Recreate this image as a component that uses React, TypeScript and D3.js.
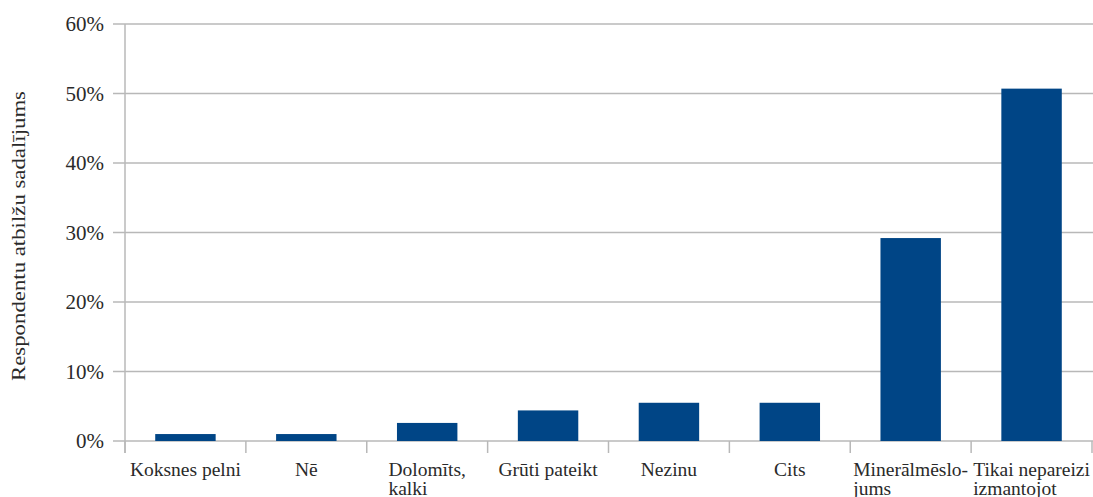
import React, { useEffect, useRef } from "react";
import * as d3 from "d3";

const categories: string[][] = [
  ["Koksnes pelni"],
  ["Nē"],
  ["Dolomīts,", "kalki"],
  ["Grūti pateikt"],
  ["Nezinu"],
  ["Cits"],
  ["Minerālmēslo-", "jums"],
  ["Tikai nepareizi", "izmantojot"],
];
const values: number[] = [0.01, 0.01, 0.026, 0.044, 0.055, 0.055, 0.292, 0.507];
const yTicks: number[] = [0, 0.1, 0.2, 0.3, 0.4, 0.5, 0.6];
const yTitle = "Respondentu atbilžu sadalījums";

const W = 1093;
const H = 497;
const M = { left: 125, right: 1092, top: 24, bottom: 441 };
const FONT = "'Liberation Serif', 'Times New Roman', serif";
const GRID = "#b8b8b8";
const BAR = "#004586";
const TEXT = "#2a2a2a";

export default function App() {
  const ref = useRef<SVGSVGElement | null>(null);

  useEffect(() => {
    const svg = d3.select(ref.current);
    svg.selectAll("*").remove();

    const keys = categories.map((c) => c.join(" "));
    const x = d3.scaleBand<string>().domain(keys).range([M.left, M.right]).paddingInner(0).paddingOuter(0);
    const y = d3.scaleLinear().domain([0, 0.6]).range([M.bottom, M.top]);

    const g = svg.append("g");
    yTicks.forEach((t) => {
      g.append("line")
        .attr("x1", M.left - 12)
        .attr("x2", M.right + 1)
        .attr("y1", y(t))
        .attr("y2", y(t))
        .attr("stroke", GRID)
        .attr("stroke-width", 1.5);
      g.append("text")
        .attr("x", M.left - 21)
        .attr("y", y(t))
        .attr("dy", "0.35em")
        .attr("text-anchor", "end")
        .attr("font-family", FONT)
        .attr("font-size", 21)
        .attr("fill", TEXT)
        .text(d3.format(".0%")(t));
    });

    g.append("line")
      .attr("x1", M.left)
      .attr("x2", M.left)
      .attr("y1", M.top)
      .attr("y2", M.bottom + 12)
      .attr("stroke", GRID)
      .attr("stroke-width", 1.5);

    const bounds = keys.map((k) => x(k) as number).concat([M.right]);
    bounds.forEach((bx) => {
      g.append("line")
        .attr("x1", bx)
        .attr("x2", bx)
        .attr("y1", M.bottom)
        .attr("y2", M.bottom + 12)
        .attr("stroke", GRID)
        .attr("stroke-width", 1.5);
    });

    const bw = x.bandwidth() * 0.5;
    svg
      .append("g")
      .selectAll("rect")
      .data(values)
      .join("rect")
      .attr("x", (_, i) => (x(keys[i]) as number) + x.bandwidth() / 2 - bw / 2)
      .attr("width", bw)
      .attr("y", (d) => y(d))
      .attr("height", (d) => y(0) - y(d))
      .attr("fill", BAR);

    const lg = svg.append("g");
    categories.forEach((lines, i) => {
      const cx = (x(keys[i]) as number) + x.bandwidth() / 2;
      const t = lg
        .append("text")
        .attr("font-family", FONT)
        .attr("font-size", 19.5)
        .attr("fill", TEXT);
      const spans = lines.map((ln, j) =>
        t.append("tspan").attr("y", 476 + j * 19).attr("x", cx).text(ln)
      );
      let maxW = 0;
      spans.forEach((s) => {
        const n = s.node() as SVGTSpanElement;
        maxW = Math.max(maxW, n.getComputedTextLength());
      });
      spans.forEach((s) => s.attr("x", cx - maxW / 2));
    });

    svg
      .append("text")
      .attr("transform", `translate(25, 236) rotate(-90)`)
      .attr("text-anchor", "middle")
      .attr("font-family", FONT)
      .attr("font-size", 18)
      .attr("textLength", 290)
      .attr("lengthAdjust", "spacingAndGlyphs")
      .attr("fill", TEXT)
      .text(yTitle);
  }, []);

  return (
    <svg
      ref={ref}
      width={W}
      height={H}
      style={{ position: "absolute", left: 0, top: 0, background: "#fff" }}
    />
  );
}
